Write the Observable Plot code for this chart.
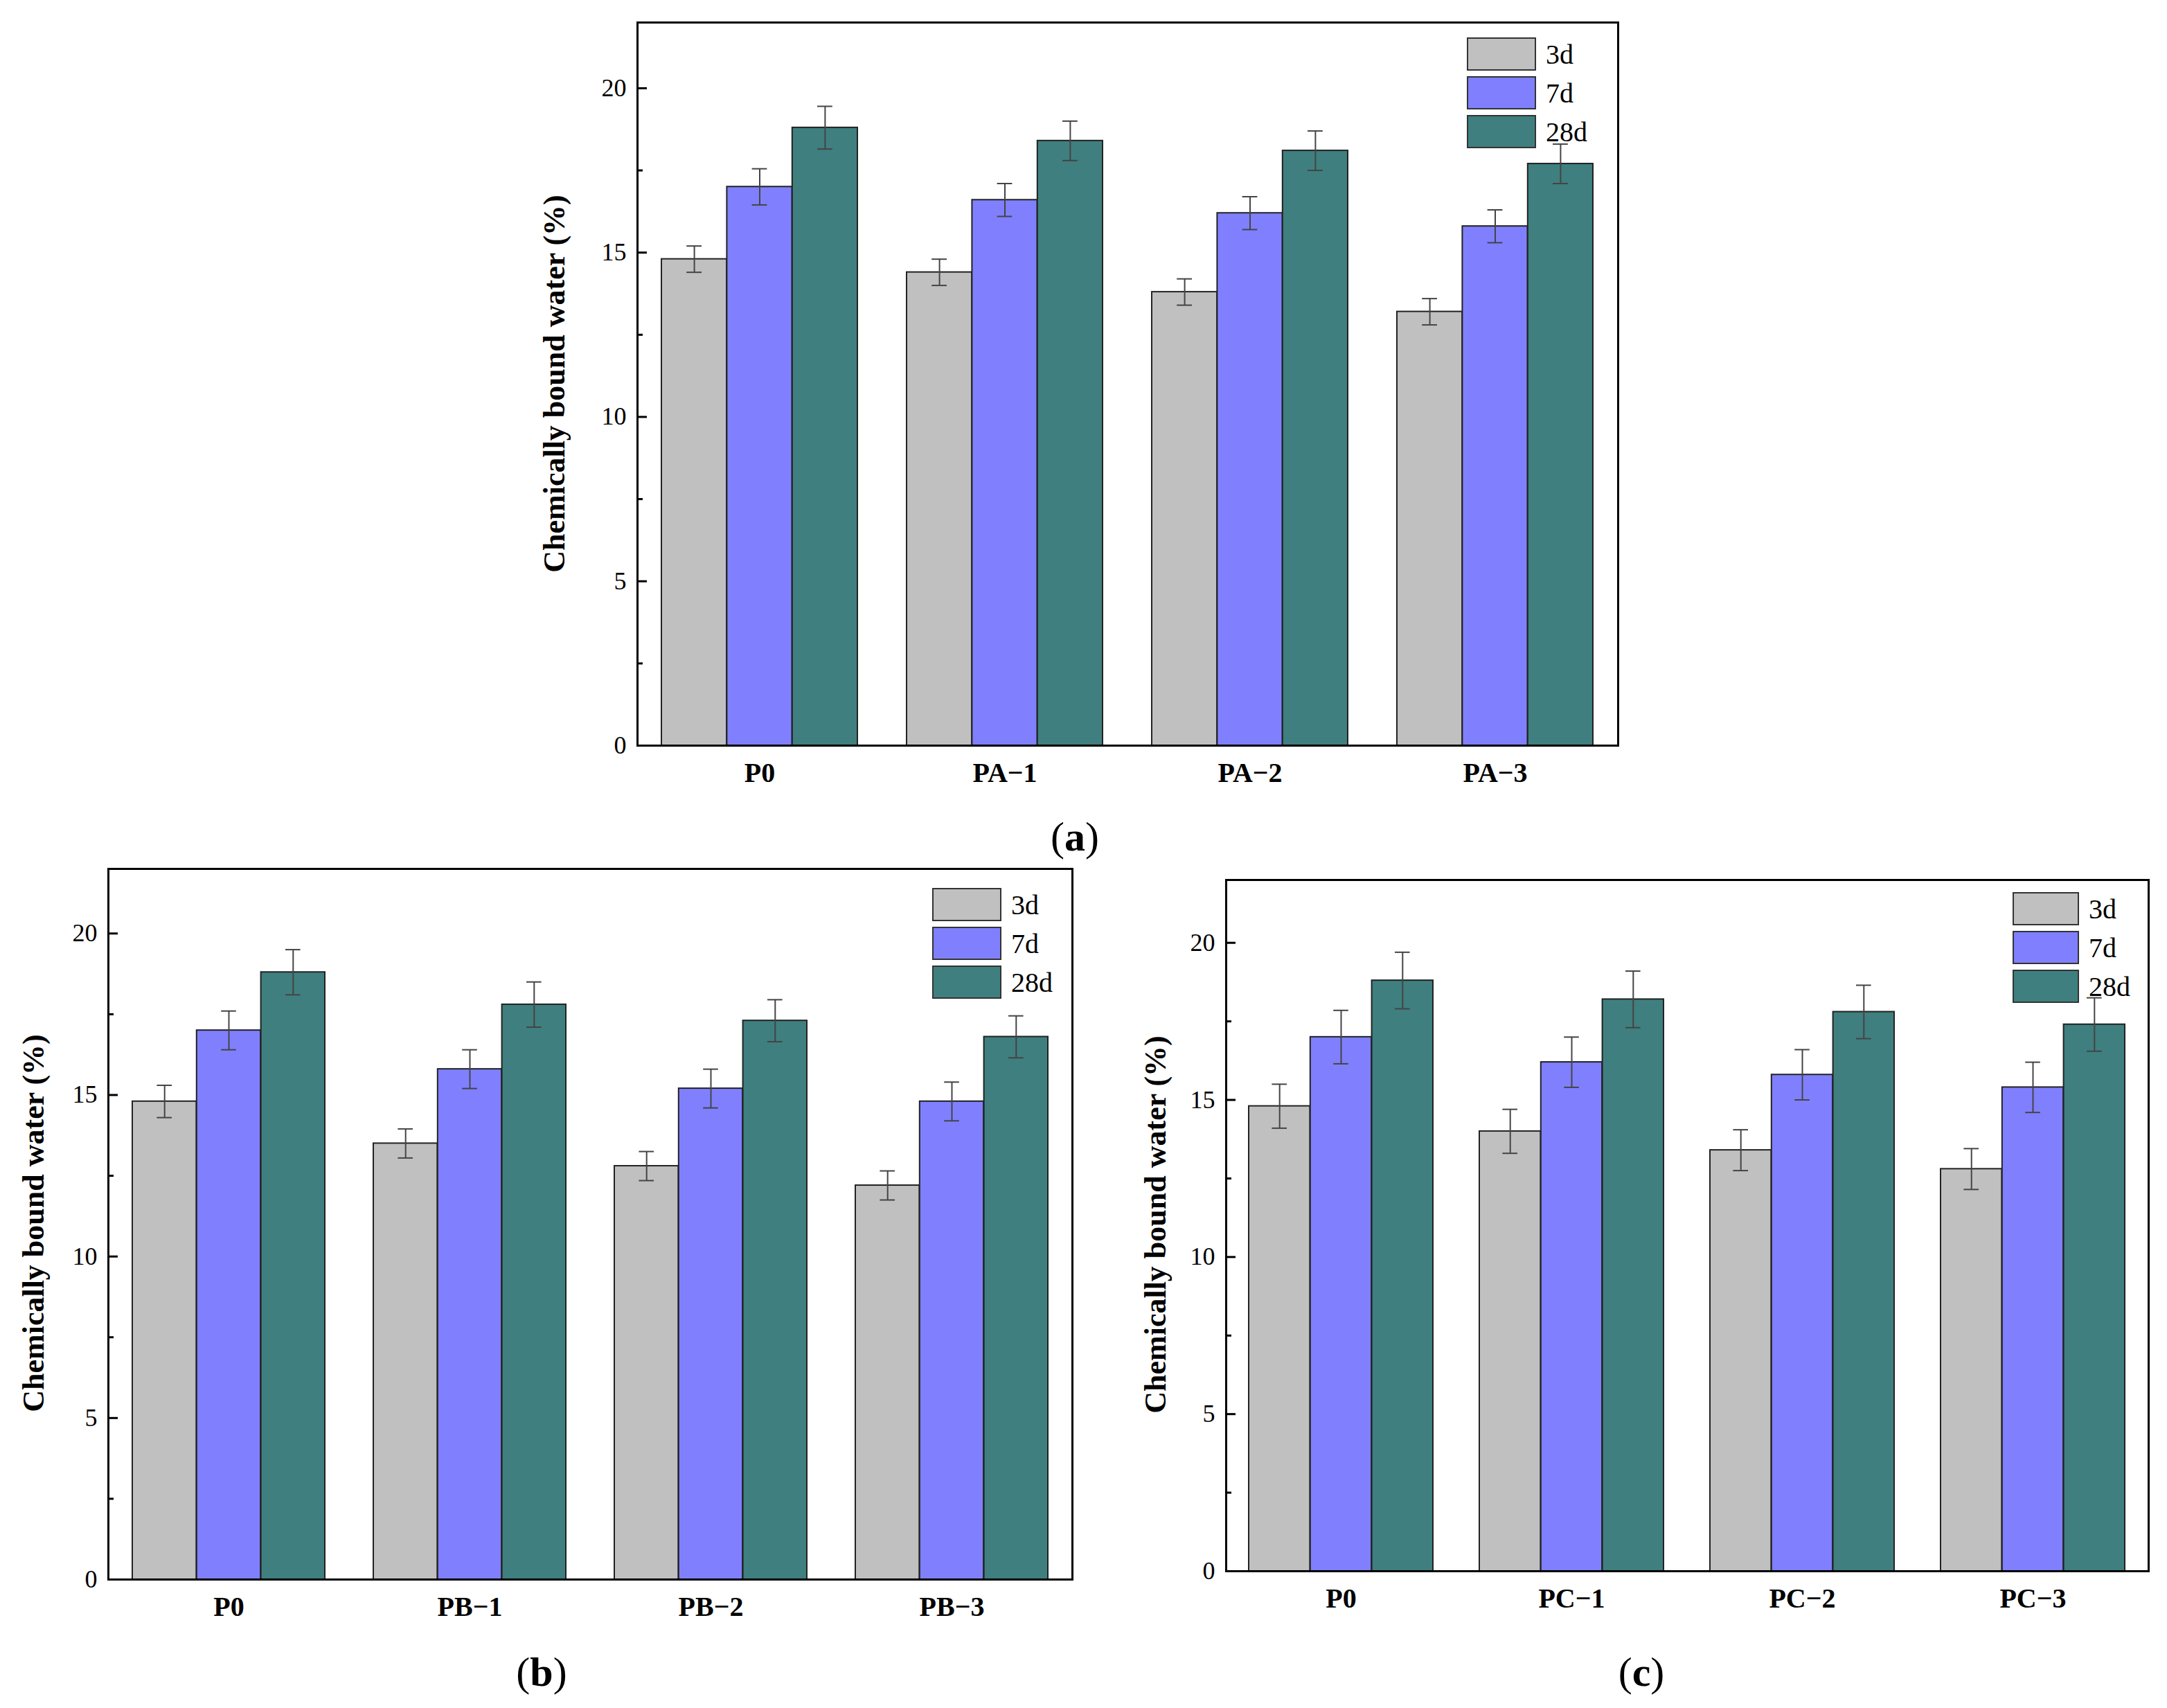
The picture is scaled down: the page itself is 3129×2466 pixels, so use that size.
<!DOCTYPE html>
<html><head><meta charset="utf-8">
<script src="https://cdn.jsdelivr.net/npm/d3@7"></script>
<script src="https://cdn.jsdelivr.net/npm/@observablehq/plot@0.6"></script>
<style>
body{margin:0;background:#fff;width:3129px;height:2466px;position:relative;font-family:"Liberation Serif",serif;overflow:hidden}
.p{position:absolute}
.yl{position:absolute;transform:translate(-50%,-50%) rotate(-90deg);font-weight:bold;font-size:44px;white-space:nowrap}
.lab{position:absolute;transform:translate(-50%,-50%);font-size:60px}
.lab b{font-weight:bold}
.lg{position:absolute;font-size:40px}
.lg div{display:flex;align-items:center;height:56px}
.lg span.s{display:inline-block;border:2px solid #333;box-sizing:border-box;margin-right:14px}
</style></head><body>
<script>
const series = ["3d","7d","28d"];
const colors = ["#c0c0c0","#8080ff","#3f7f7f"];
const groupsA = ["P0","PA−1","PA−2","PA−3"];
const valuesA = [[14.8,17.0,18.8],[14.4,16.6,18.4],[13.8,16.2,18.1],[13.2,15.8,17.7]];
const errorsA = [[0.4,0.55,0.65],[0.4,0.5,0.6],[0.4,0.5,0.6],[0.4,0.5,0.6]];
const groupsB = ["P0","PB−1","PB−2","PB−3"];
const valuesB = [[14.8,17.0,18.8],[13.5,15.8,17.8],[12.8,15.2,17.3],[12.2,14.8,16.8]];
const errorsB = [[0.5,0.6,0.7],[0.45,0.6,0.7],[0.45,0.6,0.65],[0.45,0.6,0.65]];
const groupsC = ["P0","PC−1","PC−2","PC−3"];
const valuesC = [[14.8,17.0,18.8],[14.0,16.2,18.2],[13.4,15.8,17.8],[12.8,15.4,17.4]];
const errorsC = [[0.7,0.85,0.9],[0.7,0.8,0.9],[0.65,0.8,0.85],[0.65,0.8,0.85]];
const yTicks = [0,5,10,15,20];
const yMinor = [2.5,7.5,12.5,17.5];

function panel(groups, values, errors, fl, ft, fw, fh, legendPos, ylPos, label, labPos){
  const ml=130, mr=10, mt=10, mb=90;
  const pIn=0.2, pOut=0.1;
  const step = fw/(groups.length - pIn + 2*pOut);
  const bandW = step*(1-pIn);
  const barW = bandW/3;
  const marks = [];
  series.forEach((s,j)=>{
    const data = groups.map((g,i)=>({g,s,v:values[i][j],e:errors[i][j]}));
    const dx = (j-1)*barW;
    marks.push(Plot.barY(data,{x:"g", y:"v", fill:colors[j], stroke:"#222", strokeWidth:2, insetLeft:barW, insetRight:barW, dx}));
    marks.push(Plot.ruleX(data,{x:"g", y1:d=>d.v-d.e, y2:d=>d.v+d.e, stroke:"#444", strokeWidth:2, dx}));
    const ins = bandW/2-11;
    marks.push(Plot.tickY(data,{x:"g", y:d=>d.v-d.e, stroke:"#444", strokeWidth:2, insetLeft:ins, insetRight:ins, dx}));
    marks.push(Plot.tickY(data,{x:"g", y:d=>d.v+d.e, stroke:"#444", strokeWidth:2, insetLeft:ins, insetRight:ins, dx}));
  });
  const chart = Plot.plot({
    width: fw+ml+mr, height: fh+mt+mb,
    marginLeft: ml, marginRight: mr, marginTop: mt, marginBottom: mb,
    style:{fontFamily:"Liberation Serif", fontSize:"36px", background:"transparent"},
    x:{domain:groups, paddingInner:pIn, paddingOuter:pOut, label:null},
    y:{domain:[0,22], label:null},
    marks:[
      ...marks,
      Plot.axisY({ticks:yTicks, tickSize:-14, tickPadding:30, fontSize:36, strokeWidth:3, label:null}),
      Plot.axisY({ticks:yMinor, tickSize:-8, tickFormat:()=>"", strokeWidth:3, label:null}),
      Plot.axisX({anchor:"bottom", tickSize:0, tickPadding:24, fontWeight:"bold", fontSize:40, label:null}),
      Plot.frame({stroke:"#000", strokeWidth:3})
    ]
  });
  const d = document.createElement("div");
  d.className="p"; d.style.left=(fl-ml)+"px"; d.style.top=(ft-mt)+"px";
  d.appendChild(chart); document.body.appendChild(d);
  const lg = document.createElement("div"); lg.className="lg";
  lg.style.left=legendPos[0]+"px"; lg.style.top=legendPos[1]+"px";
  series.forEach((s,j)=>{const r=document.createElement("div");
    r.innerHTML=`<span class="s" style="width:${legendPos[2]}px;height:48px;background:${colors[j]}"></span>${s}`;lg.appendChild(r);});
  document.body.appendChild(lg);
  const yl=document.createElement("div"); yl.className="yl"; yl.textContent="Chemically bound water (%)";
  yl.style.left=ylPos[0]+"px"; yl.style.top=ylPos[1]+"px"; document.body.appendChild(yl);
  const lb=document.createElement("div"); lb.className="lab"; lb.innerHTML=`(<b>${label}</b>)`;
  lb.style.left=labPos[0]+"px"; lb.style.top=labPos[1]+"px"; document.body.appendChild(lb);
}
panel(groupsA, valuesA, errorsA, 920, 32, 1416, 1044, [2118,50,100], [800,554], "a", [1552,1208]);
panel(groupsB, valuesB, errorsB, 156, 1254, 1392, 1026, [1346,1278,100], [48,1766], "b", [782,2414]);
panel(groupsC, valuesC, errorsC, 1770, 1270, 1332, 998, [2906,1284,96], [1668,1768], "c", [2370,2414]);
</script>
</body></html>
